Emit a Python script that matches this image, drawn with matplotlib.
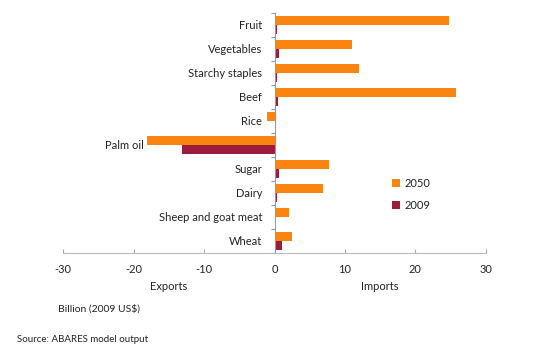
import matplotlib
matplotlib.use("Agg")
import matplotlib.pyplot as plt
import numpy as np
from matplotlib.transforms import offset_copy

categories = ["Fruit", "Vegetables", "Starchy staples", "Beef", "Rice", "Palm oil",
              "Sugar", "Dairy", "Sheep and goat meat", "Wheat"]
values_2050 = [24.8, 11.0, 12.0, 25.7, -1.0, -18.1, 7.7, 6.9, 2.0, 2.5]
values_2009 = [0.3, 0.6, 0.3, 0.5, 0.2, -13.1, 0.7, 0.4, 0.1, 1.1]
xticks = [-30, -20, -10, 0, 10, 20, 30]

plt.rcParams['font.family'] = ['Lato', 'DejaVu Sans']
c2050 = '#FA8410'
c2009 = '#9C1C3E'
txt = '#222222'

fig = plt.figure(figsize=(5.54, 3.55), dpi=100)
ax = fig.add_axes([0.114, 0.287, 0.763, 0.676])

y = np.arange(len(categories))
h = 0.38
ax.barh(y - h / 2, values_2050, height=h, color=c2050, label='2050')
ax.barh(y + h / 2, values_2009, height=h, color=c2009, label='2009')

ax.set_xlim(-30, 30)
ax.set_ylim(len(categories) - 0.5, -0.5)
ax.set_xticks(xticks)
ax.set_xticklabels([str(t) for t in xticks], fontsize=8, color=txt)
ax.tick_params(axis='x', length=3, color='#aaaaaa', pad=8, direction='in')

ax.spines['left'].set_position(('data', 0))
ax.spines['left'].set_color('#999999')
ax.spines['bottom'].set_color('#bbbbbb')
ax.spines['top'].set_visible(False)
ax.spines['right'].set_visible(False)
ax.set_yticks(np.arange(len(categories) + 1) - 0.5)
ax.set_yticklabels([])
ax.tick_params(axis='y', length=3, color='#999999', direction='out')

for i, cat in enumerate(categories):
    xpos = min(0, values_2050[i], values_2009[i])
    off = -9
    if xpos > -5:
        xpos = 0
    else:
        off = -2.5
    tr = offset_copy(ax.transData, fig=fig, x=off, y=0, units='points')
    ax.text(xpos, i, cat, transform=tr, ha='right', va='center', fontsize=8,
            color=txt)

ax.text(-15, -0.14, 'Exports', transform=ax.get_xaxis_transform(), ha='center',
        va='center', fontsize=8, color=txt)
ax.text(15, -0.14, 'Imports', transform=ax.get_xaxis_transform(), ha='center',
        va='center', fontsize=8, color=txt)
fig.text(58 / 554, 1 - 309 / 355, 'Billion (2009 US$)', ha='left', va='center',
         fontsize=7.5, color=txt)
fig.text(17 / 554, 1 - 340 / 355, 'Source: ABARES model output', ha='left', va='center',
         fontsize=7, color=txt)

leg = ax.legend(loc='center left', bbox_to_anchor=(0.755, 0.245), frameon=False,
                fontsize=8, handlelength=0.7, handleheight=0.7, labelspacing=1.0,
                handletextpad=0.4)
for t in leg.get_texts():
    t.set_color(txt)

fig.savefig('out.png', dpi=100)
